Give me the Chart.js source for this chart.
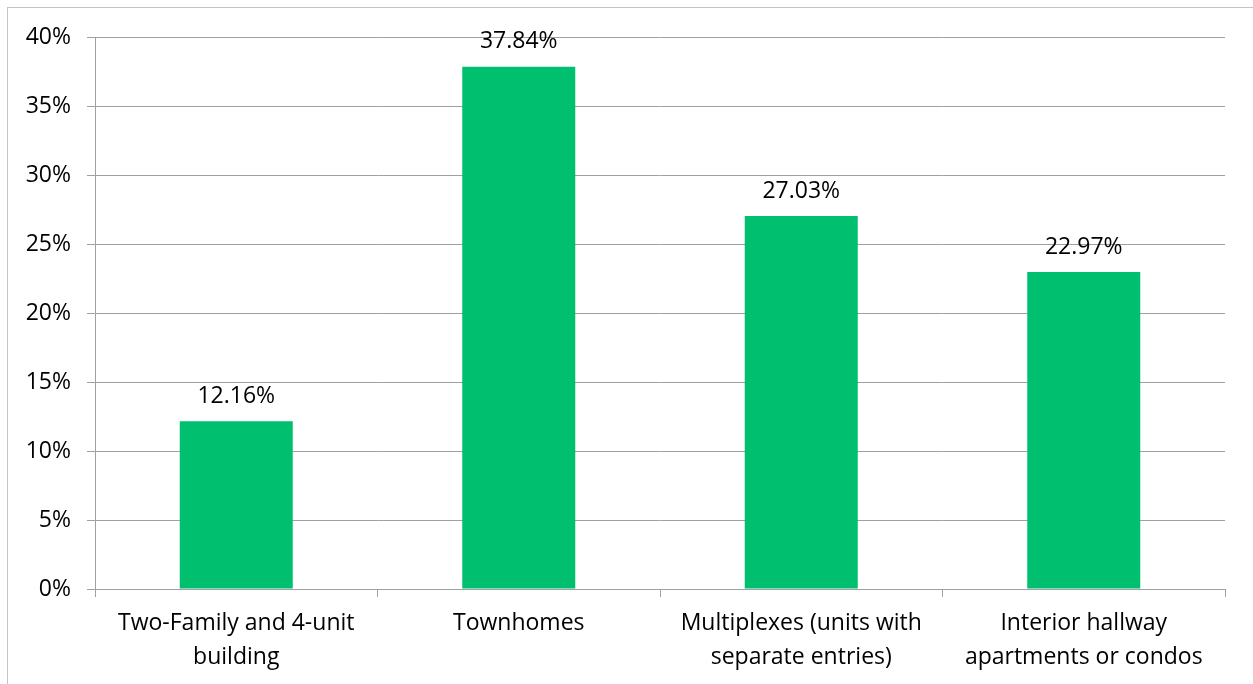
<!DOCTYPE html>
<html lang="en">
<head>
    <meta charset="UTF-8">
    <title>Share by Building Type</title>
    <script src="https://cdn.jsdelivr.net/npm/chart.js"></script>
    <style>
        body {
            margin: 0;
            background: #fff;
        }
        #wrap {
            position: relative;
            width: 1253px;
            height: 684px;
        }
        #frame {
            position: absolute;
            left: 7px;
            top: 7px;
            right: 0;
            bottom: 0;
            border-left: 1px solid #c4c4c4;
            border-top: 1px solid #c4c4c4;
        }
        canvas {
            position: absolute;
            left: 0;
            top: 0;
        }
    </style>
</head>
<body>

<div id="wrap">
    <div id="frame"></div>
    <canvas id="typeChart" width="1253" height="684"></canvas>
</div>

<script>
    // building types and their shares (percent)
    const categories = [
        ['Two-Family and 4-unit', 'building'],
        'Townhomes',
        ['Multiplexes (units with', 'separate entries)'],
        ['Interior hallway', 'apartments or condos']
    ];
    const shares = [12.16, 37.84, 27.03, 22.97];

    const fontFamily = "'Open Sans', 'Liberation Sans', sans-serif";
    const fontSize = 23;

    // write the value above each bar
    const valueLabels = {
        id: 'valueLabels',
        afterDatasetsDraw(chart) {
            const ctx = chart.ctx;
            const meta = chart.getDatasetMeta(0);
            ctx.save();
            ctx.font = fontSize + 'px ' + fontFamily;
            ctx.fillStyle = '#000';
            ctx.textAlign = 'center';
            ctx.textBaseline = 'middle';
            meta.data.forEach((bar, i) => {
                ctx.fillText(shares[i].toFixed(2) + '%', bar.x, bar.y - 25);
            });
            ctx.restore();
        }
    };

    const ctx = document.getElementById('typeChart').getContext('2d');
    new Chart(ctx, {
        type: 'bar',
        data: {
            labels: categories,
            datasets: [{
                data: shares,
                backgroundColor: '#00bf6f',
                categoryPercentage: 1,
                barPercentage: 0.4
            }]
        },
        options: {
            responsive: false,
            animation: false,
            layout: {
                padding: { top: 37, right: 28, left: 0, bottom: 0 }
            },
            plugins: {
                legend: { display: false },
                tooltip: { enabled: false }
            },
            scales: {
                x: {
                    grid: {
                        drawOnChartArea: false,
                        drawTicks: true,
                        tickLength: 8,
                        color: '#a0a0a0'
                    },
                    border: { color: '#a0a0a0' },
                    ticks: {
                        color: '#000',
                        padding: 9,
                        maxRotation: 0,
                        font: { family: fontFamily, size: fontSize, lineHeight: 1.48 }
                    },
                    afterFit(scale) { scale.height = 95; }
                },
                y: {
                    min: 0,
                    max: 40,
                    ticks: {
                        stepSize: 5,
                        color: '#000',
                        padding: 16,
                        font: { family: fontFamily, size: fontSize },
                        callback: v => v + '%'
                    },
                    grid: {
                        color: '#a0a0a0',
                        tickLength: 8
                    },
                    border: { color: '#a0a0a0' },
                    afterFit(scale) { scale.width = 95; }
                }
            }
        },
        plugins: [valueLabels]
    });
</script>

</body>
</html>
